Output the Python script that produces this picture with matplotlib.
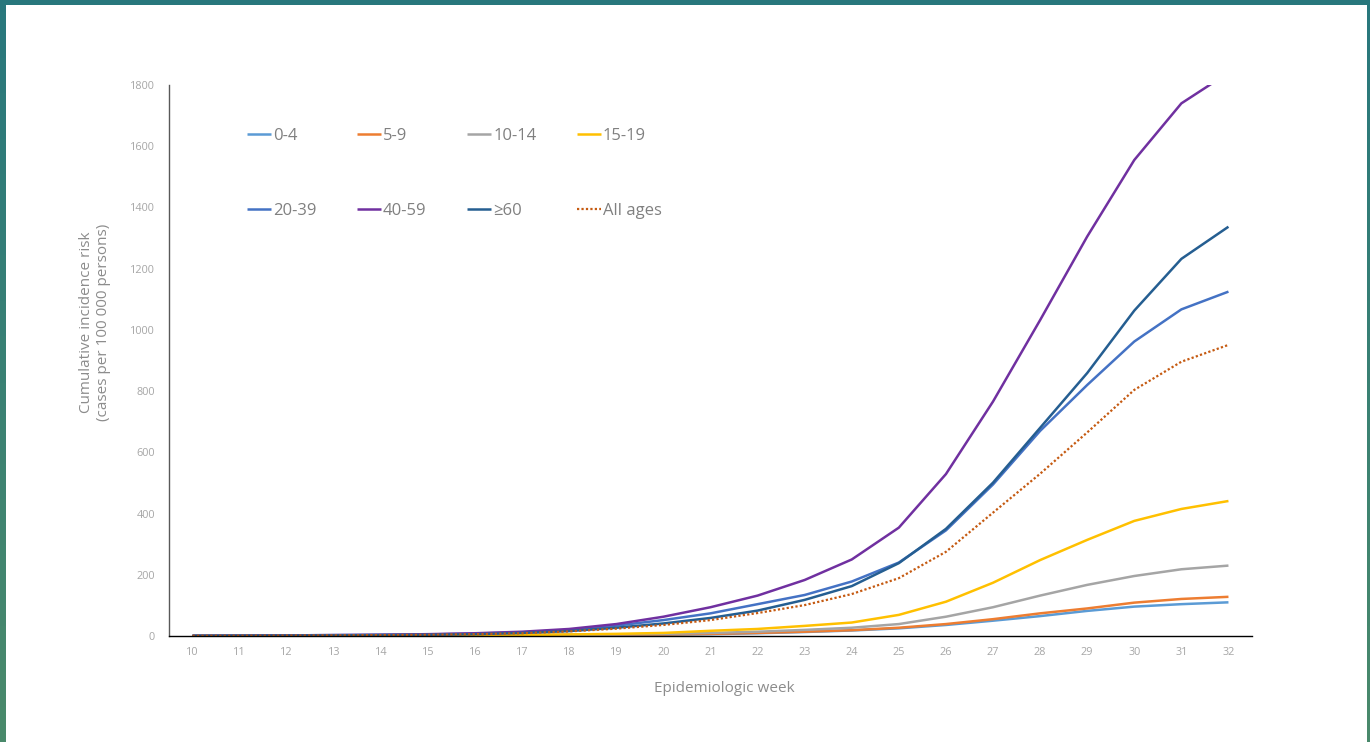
import numpy as np
import matplotlib.pyplot as plt
from matplotlib.patches import Rectangle

plt.rcParams['font.family'] = ['Open Sans', 'DejaVu Sans']

weeks = list(range(10, 33))

age_0_4 = [0.2, 0.4, 0.7, 1, 1.5, 2, 2.5, 3, 3.5, 4, 4.5, 6, 9, 13, 18, 25, 36, 50, 65, 82, 96, 104, 110]
age_5_9 = [0.2, 0.4, 0.7, 1, 1.5, 2, 2.5, 3, 3.5, 4, 5, 7, 10, 14, 19, 27, 39, 55, 74, 90, 109, 121, 128]
age_10_14 = [0.2, 0.4, 0.7, 1, 1.5, 2, 2.5, 3, 3.5, 5, 7, 10, 14, 20, 27, 39, 63, 94, 132, 167, 196, 218, 230]
age_15_19 = [0.2, 0.4, 0.7, 1, 1.5, 2, 2.5, 3, 5, 7, 10, 17, 23, 33, 44, 69, 112, 174, 248, 314, 376, 415, 441]
age_20_39 = [0.5, 1, 2, 3, 4, 5, 8, 12, 20, 34, 52, 74, 104, 134, 178, 240, 345, 495, 670, 820, 962, 1067, 1125]
age_40_59 = [0.5, 1, 2, 3, 4, 6, 9, 14, 23, 39, 63, 94, 132, 183, 250, 354, 529, 766, 1032, 1305, 1555, 1740, 1840]
age_60_up = [0.5, 1, 1.5, 2, 3, 4, 6, 10, 16, 27, 41, 59, 83, 118, 163, 238, 350, 501, 680, 859, 1063, 1232, 1337]
all_ages = [0.5, 1, 1.5, 2, 3, 4, 6, 9, 15, 24, 36, 52, 75, 101, 137, 189, 275, 403, 530, 665, 804, 896, 951]

series = [
    ('0-4', age_0_4, '#5b9bd5', '-'),
    ('5-9', age_5_9, '#ed7d31', '-'),
    ('10-14', age_10_14, '#a5a5a5', '-'),
    ('15-19', age_15_19, '#ffc000', '-'),
    ('20-39', age_20_39, '#4472c4', '-'),
    ('40-59', age_40_59, '#7030a0', '-'),
    ('\u226560', age_60_up, '#255e91', '-'),
    ('All ages', all_ages, '#c55a11', (0, (1, 1))),
]

W, H = 1370, 742
fig = plt.figure(figsize=(W / 100, H / 100), dpi=100)

# teal slide frame behind the white panel
bg = fig.add_axes([0, 0, 1, 1])
top = np.array([0.16, 0.47, 0.49])
bot = np.array([0.29, 0.54, 0.42])
t = np.linspace(0, 1, 64)[:, None]
grad = (top * (1 - t) + bot * t)[:, None, :].repeat(8, axis=1)
bg.imshow(grad, aspect='auto', extent=[0, 1, 0, 1])
bg.add_patch(Rectangle((6 / W, 0), (1367 - 6) / W, (H - 5) / H,
                       facecolor='white', edgecolor='none'))
bg.set_xlim(0, 1)
bg.set_ylim(0, 1)
bg.axis('off')

ax = fig.add_axes([169 / W, 1 - 636 / H, (1252 - 169) / W, (636 - 85) / H])
ax.patch.set_alpha(0)

lines = {}
for label, vals, color, ls in series:
    lw = 1.6 if label == 'All ages' else 1.8
    lines[label], = ax.plot(weeks, vals, color=color, linestyle=ls,
                            linewidth=lw, label=label, solid_capstyle='butt')

ax.set_xlim(9.5, 32.5)
ax.set_ylim(0, 1800)
ax.set_xticks(weeks)
ax.set_yticks(range(0, 1801, 200))
ax.tick_params(length=0, labelsize=7.8, labelcolor='#a6a6a6')
ax.tick_params(axis='y', pad=10)
ax.tick_params(axis='x', pad=8)
for side in ['top', 'right']:
    ax.spines[side].set_visible(False)
ax.spines['left'].set_color('#595959')
ax.spines['bottom'].set_color('#000000')
ax.spines['left'].set_linewidth(1.0)
ax.spines['bottom'].set_linewidth(1.0)

fig.text(95 / W, 1 - 322 / H,
         'Cumulative incidence risk\n(cases per 100 000 persons)',
         rotation=90, ha='center', va='center', fontsize=11,
         color='#8c8c8c', linespacing=1.1)
fig.text(724 / W, 1 - 688 / H, 'Epidemiologic week', ha='center',
         va='center', fontsize=11, color='#8c8c8c')

# legend fills column by column, so interleave the two rows
order = ['0-4', '20-39', '5-9', '40-59', '10-14', '\u226560', '15-19', 'All ages']
leg = ax.legend([lines[k] for k in order], order, ncol=4, loc='upper left',
                bbox_to_anchor=(247 / W, 1 - 128 / H),
                bbox_transform=fig.transFigure, frameon=False,
                fontsize=12, labelcolor='#808080', handlelength=1.45,
                handletextpad=0.1, columnspacing=2.45, labelspacing=3.55,
                borderpad=0, borderaxespad=0)

fig.savefig('out.png', dpi=100)
